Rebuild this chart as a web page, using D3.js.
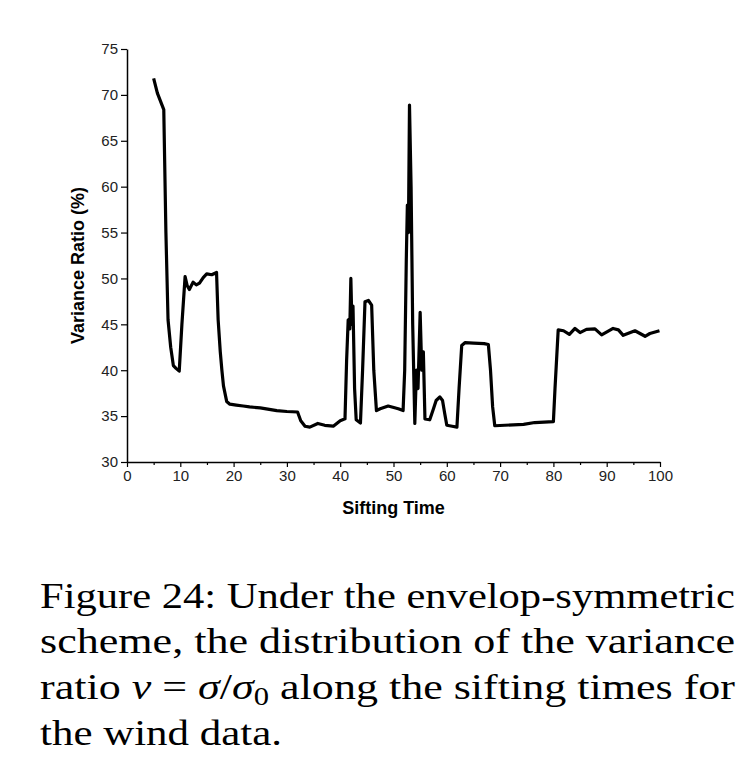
<!DOCTYPE html>
<html lang="en">
<head>
<meta charset="UTF-8">
<title>Variance Ratio vs Sifting Time</title>
<script src="https://cdnjs.cloudflare.com/ajax/libs/d3/7.8.5/d3.min.js"></script>
<style>
    body { margin: 0; background: #fff; }
    svg { display: block; }
    .tick text { font-family: "Liberation Sans", Arial, sans-serif; }
</style>
</head>
<body>
<svg id="chart" width="755" height="778"></svg>
<script>
// sifting time (x) and variance ratio in % (y)
const siftingTime = [
    5, 5.7, 6.9, 7.0, 7.3, 7.7, 8.2, 8.7, 9.2, 9.8,
    10.3, 10.9, 11.3, 11.7, 12.4, 13.0, 13.6, 14.3, 14.95, 15.9,
    16.8, 17.1, 17.5, 17.8, 18.1, 18.7, 19.3, 20.5, 21.8, 23,
    25, 28.1, 30, 32, 32.6, 33.4, 34.3, 35.8, 37.1, 38.7,
    40, 40.9, 41.2, 41.5, 41.8, 42.0, 42.2, 42.4, 42.7, 43.0,
    43.8, 44.2, 44.65, 45.3, 45.9, 46.3, 46.8, 47.5, 49, 50.9,
    51.8, 52.1, 52.4, 52.6, 52.8, 53.0, 53.3, 53.6, 54.0, 54.3,
    54.6, 55.0, 55.3, 55.6, 55.9, 56.8, 57.5, 58.0, 58.7, 59.2,
    59.6, 60.0, 61.0, 61.9, 62.3, 62.8, 63.4, 65, 67, 67.8,
    68.2, 68.6, 69.0, 74.4, 76.5, 80, 80.3, 80.9, 81.9, 83,
    84.05, 85, 86.2, 87.8, 89.05, 91.2, 92.2, 93.1, 95.3, 97.2,
    98.1, 99.9
];
const varianceRatio = [
    71.8, 70.2, 68.4, 65, 55, 45.5, 42.5, 40.5, 40.2, 39.9,
    45, 50.2, 49.2, 48.8, 49.6, 49.3, 49.5, 50.1, 50.5, 50.4,
    50.65, 45.5, 42, 40, 38.3, 36.6, 36.3, 36.2, 36.1, 36.0,
    35.9, 35.6, 35.5, 35.45, 34.5, 33.9, 33.8, 34.2, 34.0, 33.9,
    34.5, 34.7, 41, 45.5, 44.5, 50.0, 45, 47, 38, 34.6,
    34.25, 40, 47.45, 47.6, 47.1, 40, 35.6, 35.8, 36.1, 35.8,
    35.6, 40, 52, 58, 55, 68.9, 60, 45, 34.2, 40,
    38, 46.3, 40, 42, 34.7, 34.6, 35.8, 36.7, 37.1, 36.7,
    35.3, 34.0, 33.9, 33.8, 38, 42.7, 43.0, 42.95, 42.9, 42.8,
    40, 36, 33.95, 34.1, 34.3, 34.4, 38, 44.4, 44.3, 43.9,
    44.55, 44.1, 44.45, 44.5, 43.85, 44.55, 44.4, 43.8, 44.3, 43.7,
    44.0, 44.3
];

const xTicks = [0, 10, 20, 30, 40, 50, 60, 70, 80, 90, 100];
const xMinorTicks = [5, 15, 25, 35, 45, 55, 65, 75, 85, 95];
const yTicks = [30, 35, 40, 45, 50, 55, 60, 65, 70, 75];

const xLabel = "Sifting Time";
const yLabel = "Variance Ratio (%)";

const svg = d3.select("#chart");

const x = d3.scaleLinear().domain([0, 100]).range([127, 660]);
const y = d3.scaleLinear().domain([30, 75]).range([462, 49]);

// minor x ticks first, so the major axis draws on top
svg.append("g")
    .attr("transform", `translate(0,${y(30)})`)
    .call(d3.axisBottom(x).tickValues(xMinorTicks).tickSize(3).tickFormat(""))
    .call(g => g.select(".domain").remove())
    .selectAll("line").attr("stroke", "#000").attr("stroke-width", 1.2);

const xAxis = svg.append("g")
    .attr("transform", `translate(0,${y(30)})`)
    .call(d3.axisBottom(x).tickValues(xTicks).tickSize(5).tickSizeOuter(0).tickPadding(3));

const yAxis = svg.append("g")
    .attr("transform", `translate(${x(0)},0)`)
    .call(d3.axisLeft(y).tickValues(yTicks).tickSize(6).tickSizeOuter(0).tickPadding(3));

[xAxis, yAxis].forEach(a => {
    a.select(".domain").attr("stroke", "#000").attr("stroke-width", 1.5);
    a.selectAll(".tick line").attr("stroke", "#000").attr("stroke-width", 1.2);
    a.selectAll(".tick text")
        .attr("font-size", 15)
        .attr("fill", "#222");
});

// data line
const points = siftingTime.map((t, i) => [t, varianceRatio[i]]);
svg.append("path")
    .datum(points)
    .attr("fill", "none")
    .attr("stroke", "#000")
    .attr("stroke-width", 3.2)
    .attr("stroke-linejoin", "round")
    .attr("d", d3.line().x(d => x(d[0])).y(d => y(d[1])));

// axis titles
svg.append("text")
    .attr("x", (x(0) + x(100)) / 2)
    .attr("y", 514)
    .attr("text-anchor", "middle")
    .attr("font-family", "Liberation Sans, Arial, sans-serif")
    .attr("font-weight", "bold")
    .attr("font-size", 18)
    .text(xLabel);

svg.append("text")
    .attr("transform", `translate(84,${(y(30) + y(75)) / 2 + 10}) rotate(-90)`)
    .attr("text-anchor", "middle")
    .attr("font-family", "Liberation Sans, Arial, sans-serif")
    .attr("font-weight", "bold")
    .attr("font-size", 18)
    .text(yLabel);

// caption, glyphs stretched a bit to get the wide look of the original serif
const capFont = "Liberation Serif, 'DejaVu Serif', serif";
const capX = 40, capSize = 36;

function capLine(yPos, width) {
    return svg.append("text")
        .attr("x", capX)
        .attr("y", yPos)
        .attr("font-family", capFont)
        .attr("font-size", capSize)
        .attr("fill", "#000")
        .attr("textLength", width)
        .attr("lengthAdjust", "spacingAndGlyphs");
}

capLine(608, 695).text("Figure 24: Under the envelop-symmetric");
capLine(653, 695).text("scheme, the distribution of the variance");

const l3 = capLine(699, 695);
l3.append("tspan").text("ratio ");
l3.append("tspan").attr("font-style", "italic").text("ν");
l3.append("tspan").text(" = ");
l3.append("tspan").attr("font-style", "italic").text("σ");
l3.append("tspan").text("/");
l3.append("tspan").attr("font-style", "italic").text("σ");
l3.append("tspan").attr("font-size", 25).attr("dy", 6).text("0");
l3.append("tspan").attr("dy", -6).text(" along the sifting times for");

capLine(745, 242).text("the wind data.");
</script>
</body>
</html>
